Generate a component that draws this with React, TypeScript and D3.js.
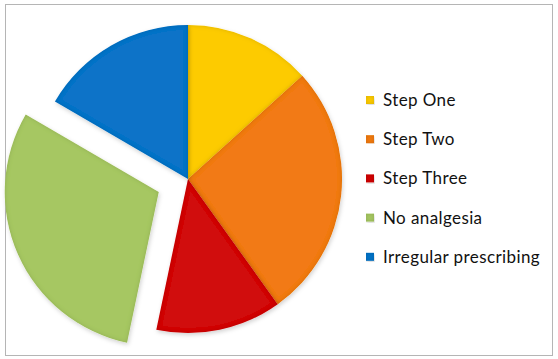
import React from "react";
import * as d3 from "d3";

const categories = ["Step One", "Step Two", "Step Three", "No analgesia", "Irregular prescribing"];
const values = [13.3, 26.8, 13.2, 30.1, 16.6];
const colors = ["#FDCB02", "#F27A12", "#D10B0B", "#A6C762", "#0B73C8"];
const exploded = [false, false, false, true, false];

const W = 558;
const H = 359;

export default function App() {
  const cx = 188;
  const cy = 179;
  const r = 154;
  const explodeDist = 32;
  const pie = d3.pie<number>().sort(null).value((d) => d);
  const arcs = pie(values);
  const arc = d3.arc<d3.PieArcDatum<number>>().innerRadius(0).outerRadius(r);

  const legendX = 366;
  const legendY0 = 100;
  const legendStep = 39.2;

  return (
    <svg width={W} height={H} style={{ position: "absolute", left: 0, top: 0 }}>
      <defs>
        <filter id="bevel" x="-10%" y="-10%" width="120%" height="120%">
          <feGaussianBlur in="SourceAlpha" stdDeviation="2.2" result="blur" />
          <feComposite in="SourceAlpha" in2="blur" operator="arithmetic" k1="0" k2="1" k3="-1" k4="0" result="edge" />
          <feFlood floodColor="#000" floodOpacity="0.28" />
          <feComposite in2="edge" operator="in" result="shade" />
          <feGaussianBlur in="SourceAlpha" stdDeviation="2" result="sb" />
          <feOffset in="sb" dx="1" dy="2" result="so" />
          <feFlood floodColor="#000" floodOpacity="0.18" />
          <feComposite in2="so" operator="in" result="drop" />
          <feMerge>
            <feMergeNode in="drop" />
            <feMergeNode in="SourceGraphic" />
            <feMergeNode in="shade" />
          </feMerge>
        </filter>
      </defs>
      <rect x={0} y={0} width={W} height={H} fill="#ffffff" />
      <rect x={5.5} y={4.5} width={547} height={351} fill="#ffffff" stroke="#b5b5b5" strokeWidth={1} />
      <g transform={`translate(${cx},${cy})`}>
        {arcs.map((a, i) => {
          const mid = (a.startAngle + a.endAngle) / 2;
          const off = exploded[i] ? explodeDist : 0;
          const dx = Math.sin(mid) * off;
          const dy = -Math.cos(mid) * off;
          return (
            <path
              key={categories[i]}
              d={arc(a) || ""}
              transform={`translate(${dx},${dy})`}
              fill={colors[i]}
              filter="url(#bevel)"
            />
          );
        })}
      </g>
      <g>
        {categories.map((c, i) => {
          const y = legendY0 + i * legendStep;
          return (
            <g key={c}>
              <rect x={legendX} y={y - 4} width={8} height={8} fill={colors[i]} filter="url(#bevel)" />
              <text
                x={legendX + 17}
                y={y}
                dy="0.35em"
                fontFamily="Lato, 'Open Sans', sans-serif"
                fontSize={17}
                letterSpacing={0.4}
                fill="#111"
              >
                {c}
              </text>
            </g>
          );
        })}
      </g>
    </svg>
  );
}
